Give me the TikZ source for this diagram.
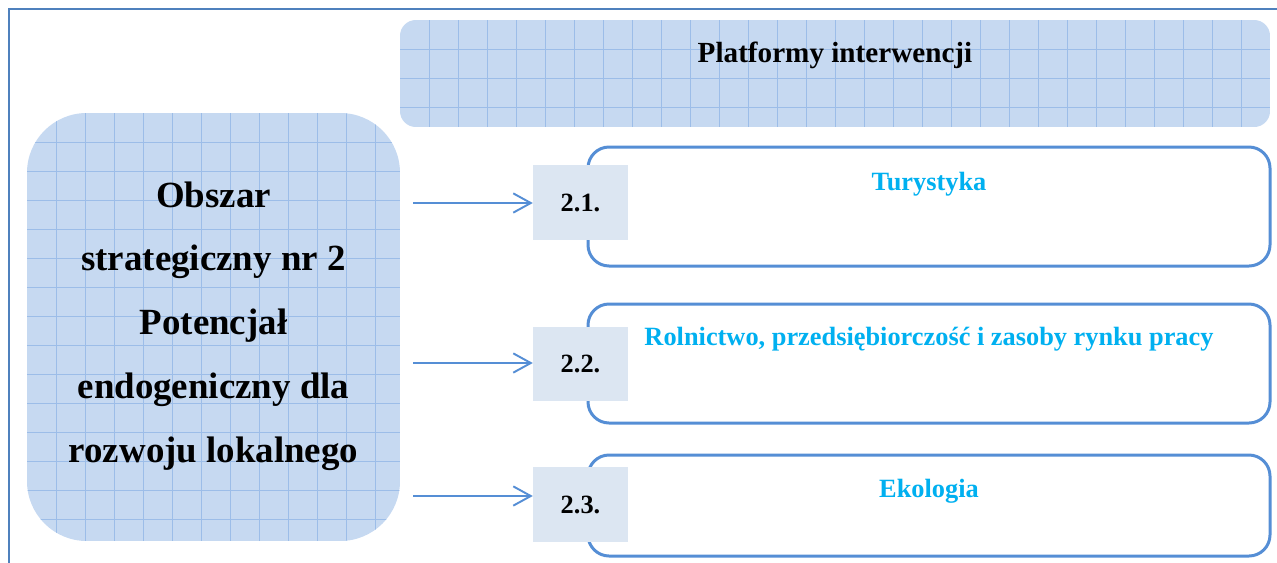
\documentclass[tikz,border=0pt]{standalone}
\usepackage{fontspec}
\setmainfont{Liberation Serif}
\usetikzlibrary{arrows.meta}

\definecolor{ramka}{HTML}{4F81BD}
\definecolor{obrys}{HTML}{558ED5}
\definecolor{siatka}{HTML}{C6D9F1}
\definecolor{kratka}{HTML}{9CBDE8}
\definecolor{numer}{HTML}{DCE6F2}
\definecolor{tytul}{HTML}{00B0F0}

\tikzset{
 platforma/.style={draw=obrys, line width=1.7pt, rounded corners=12pt, fill=white},
 linia/.style={draw=kratka, line width=0.45pt},
 numerek/.style={fill=numer, minimum width=53.9pt, minimum height=42.5pt, inner sep=0pt,
   font=\fontsize{15}{18}\selectfont\bfseries},
 nazwa/.style={text=tytul, anchor=base, font=\fontsize{15}{18}\selectfont\bfseries},
 strzalka/.style={draw=obrys, line width=1.1pt,
   -{Straight Barb[length=10pt,width=11pt,line width=1.1pt]}},
}

\begin{document}
\begin{tikzpicture}[x=0.02cm,y=-0.02cm]
 \useasboundingbox (0,0) rectangle (1277,562);
 % ramka
 \draw[ramka, line width=1.6pt] (9,600) -- (9,9) -- (1300,9);
 % obszar strategiczny
 \begin{scope}
  \clip[rounded corners=34pt] (27,113) rectangle (400,541);
  \fill[siatka] (27,113) rectangle (400,541);
  \foreach \x in {56,85,...,400} \draw[linia] (\x,113) -- (\x,541);
  \foreach \y in {142,171,...,541} \draw[linia] (27,\y) -- (400,\y);
 \end{scope}
 % platformy
 \begin{scope}
  \clip[rounded corners=9pt] (400,20) rectangle (1270,127);
  \fill[siatka] (400,20) rectangle (1270,127);
  \foreach \x in {429,458,...,1270} \draw[linia] (\x,20) -- (\x,127);
  \foreach \y in {49,78,107} \draw[linia] (400,\y) -- (1270,\y);
 \end{scope}
 \draw[platforma] (588,147) rectangle (1270,266);
 \draw[platforma] (588,304) rectangle (1270,423);
 \draw[platforma] (588,455) rectangle (1270,556);

 \node[numerek] (n1) at (580.5,202.5) {2.1.};
 \node[numerek] (n2) at (580.5,364) {2.2.};
 \node[numerek] (n3) at (580.5,504.5) {2.3.};

 \coordinate (a1) at (413,203);
 \coordinate (a2) at (413,363);
 \coordinate (a3) at (413,496);
 \draw[strzalka] (a1) -- (a1 -| n1.west);
 \draw[strzalka] (a2) -- (a2 -| n2.west);
 \draw[strzalka] (a3) -- (a3 -| n3.west);

 \node[font=\fontsize{21}{36.3}\selectfont\bfseries, align=center] (obszar) at (213.5,326)
  {Obszar\\strategiczny nr 2\\Potencjał\\endogeniczny dla\\rozwoju lokalnego};
 \node[anchor=base, font=\fontsize{16.6}{20}\selectfont\bfseries] (platformy) at (835,62)
  {Platformy interwencji};
 \node[nazwa] (t1) at (929,190) {Turystyka};
 \node[nazwa] (t2) at (929,345) {Rolnictwo, przedsiębiorczość i zasoby rynku pracy};
 \node[nazwa] (t3) at (929,497) {Ekologia};
\end{tikzpicture}
\end{document}
